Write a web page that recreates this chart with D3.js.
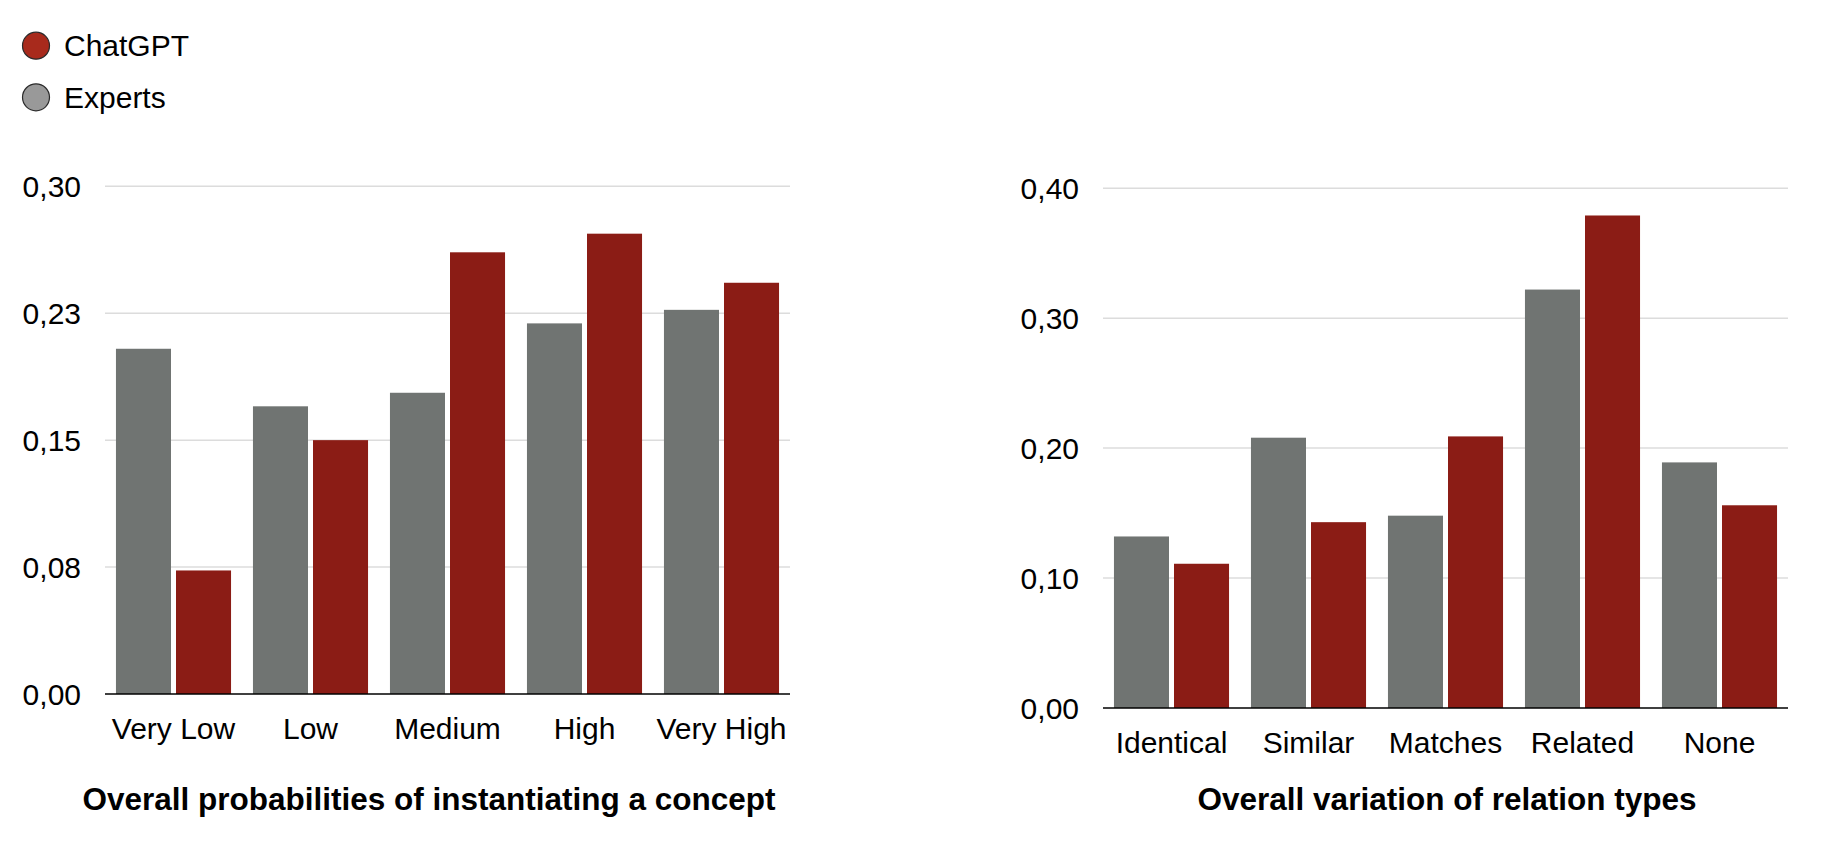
<!DOCTYPE html>
<html>
<head>
<meta charset="utf-8">
<script src="https://cdn.jsdelivr.net/npm/d3@7"></script>
<style>
  body { margin: 0; background: #fff; }
  svg { font-family: "Liberation Sans", Arial, Helvetica, sans-serif; }
  .grid line { stroke: #dcdcdc; stroke-width: 1.5; }
  .baseline { stroke: #000; stroke-width: 1.5; }
  .tick-label { font-size: 30px; fill: #000; }
  .cat-label { font-size: 30px; fill: #000; }
  .title { font-size: 31.5px; font-weight: bold; fill: #000; }
  .legend text { font-size: 30px; fill: #000; }
</style>
</head>
<body>
<svg width="1838" height="854"></svg>
<script>
const series = ["Experts", "ChatGPT"];
const colors = { Experts: "#707472", ChatGPT: "#8b1c15" };
const legendColors = { ChatGPT: "#a82a1c", Experts: "#999999" };

// left chart
const levels = ["Very Low", "Low", "Medium", "High", "Very High"];
const levelsExperts = [0.204, 0.170, 0.178, 0.219, 0.227];
const levelsChatGPT = [0.073, 0.150, 0.261, 0.272, 0.243];
const levelsTicks = [0, 0.075, 0.15, 0.225, 0.30];
const levelsTickLabels = ["0,00", "0,08", "0,15", "0,23", "0,30"];

// right chart
const relations = ["Identical", "Similar", "Matches", "Related", "None"];
const relationsExperts = [0.132, 0.208, 0.148, 0.322, 0.189];
const relationsChatGPT = [0.111, 0.143, 0.209, 0.379, 0.156];
const relationsTicks = [0, 0.10, 0.20, 0.30, 0.40];
const relationsTickLabels = ["0,00", "0,10", "0,20", "0,30", "0,40"];

const svg = d3.select("svg");

const drawChart = (opts) => {
  const { categories, experts, chatgpt, ticks, tickLabels, title, left, right, top, bottom, titleX } = opts;
  const data = categories.map((c, i) => ({ category: c, Experts: experts[i], ChatGPT: chatgpt[i] }));

  const x = d3.scaleBand()
    .domain(categories)
    .range([left, right])
    .paddingInner(0.16)
    .paddingOuter(0.08);

  const xInner = d3.scaleBand()
    .domain(series)
    .range([0, x.bandwidth()])
    .paddingInner(0.0833);

  const y = d3.scaleLinear()
    .domain([0, d3.max(ticks)])
    .range([bottom, top]);

  const g = svg.append("g");

  g.append("g")
      .attr("class", "grid")
    .selectAll("line")
    .data(ticks.slice(1))
    .join("line")
      .attr("x1", left)
      .attr("x2", right)
      .attr("y1", d => y(d))
      .attr("y2", d => y(d));

  g.append("g")
    .selectAll("text")
    .data(ticks)
    .join("text")
      .attr("class", "tick-label")
      .attr("x", left - 24)
      .attr("y", d => y(d))
      .attr("dy", "0.36em")
      .attr("text-anchor", "end")
      .text((d, i) => tickLabels[i]);

  g.append("g")
    .selectAll("g")
    .data(data)
    .join("g")
      .attr("transform", d => `translate(${x(d.category)},0)`)
    .selectAll("rect")
    .data(d => series.map(s => ({ key: s, value: d[s] })))
    .join("rect")
      .attr("x", d => xInner(d.key))
      .attr("width", xInner.bandwidth())
      .attr("y", d => y(d.value))
      .attr("height", d => y(0) - y(d.value))
      .attr("fill", d => colors[d.key]);

  g.append("line")
      .attr("class", "baseline")
      .attr("x1", left)
      .attr("x2", right)
      .attr("y1", y(0))
      .attr("y2", y(0));

  g.append("g")
    .selectAll("text")
    .data(categories)
    .join("text")
      .attr("class", "cat-label")
      .attr("x", d => x(d) + x.bandwidth() / 2)
      .attr("y", y(0) + 44.5)
      .attr("text-anchor", "middle")
      .text(d => d);

  g.append("text")
      .attr("class", "title")
      .attr("x", titleX)
      .attr("y", 810)
      .attr("text-anchor", "middle")
      .text(title);
};

drawChart({
  categories: levels,
  experts: levelsExperts,
  chatgpt: levelsChatGPT,
  ticks: levelsTicks,
  tickLabels: levelsTickLabels,
  title: "Overall probabilities of instantiating a concept",
  left: 105, right: 790, top: 186.3, bottom: 694,
  titleX: 429
});

drawChart({
  categories: relations,
  experts: relationsExperts,
  chatgpt: relationsChatGPT,
  ticks: relationsTicks,
  tickLabels: relationsTickLabels,
  title: "Overall variation of relation types",
  left: 1103, right: 1788, top: 188.2, bottom: 708,
  titleX: 1447
});

// legend
const legend = svg.append("g").attr("class", "legend");
const legendItems = legend.selectAll("g")
  .data(["ChatGPT", "Experts"])
  .join("g")
    .attr("transform", (d, i) => `translate(36, ${45.7 + i * 51.6})`);

legendItems.append("circle")
    .attr("r", 13.5)
    .attr("fill", d => legendColors[d])
    .attr("stroke", "#2a2a2a")
    .attr("stroke-width", 1.2);

legendItems.append("text")
    .attr("x", 28)
    .attr("dy", "0.35em")
    .text(d => d);
</script>
</body>
</html>
